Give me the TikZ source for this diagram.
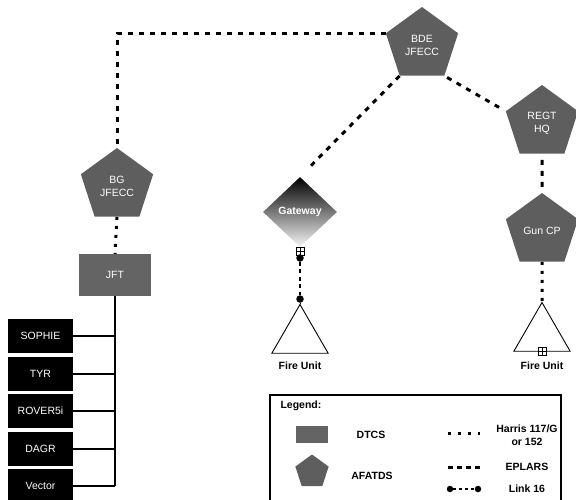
\documentclass[tikz,border=0pt]{standalone}
\usepackage{fontspec}
\setmainfont{Liberation Sans}
\usetikzlibrary{arrows.meta, positioning, calc, shapes.geometric}
\definecolor{afagray}{HTML}{5E5E5E}
\definecolor{dtcsgray}{HTML}{646464}

\begin{document}
\begin{tikzpicture}[
    x=1pt, y=-1pt,
    pent/.style={regular polygon, regular polygon sides=5, minimum size=76pt,
                 inner sep=0pt, fill=afagray, text=white, align=center,
                 font=\fontsize{10.5}{13}\selectfont},
    dtcs/.style={rectangle, fill=dtcsgray, text=white, minimum width=72pt,
                 minimum height=42pt, font=\fontsize{10.5}{12}\selectfont},
    sensor/.style={rectangle, fill=black, text=white, minimum width=65pt,
                   minimum height=34pt, font=\fontsize{10.5}{12}\selectfont},
    firetri/.style={draw, regular polygon, regular polygon sides=3,
                    minimum size=65pt, inner sep=0pt, line width=0.9pt},
    plug/.style={draw, fill=white, minimum size=8pt, inner sep=0pt, line width=0.9pt},
    ball/.style={circle, fill=black, minimum size=7.5pt, inner sep=0pt},
    lbl/.style={font=\fontsize{10.5}{12.5}\selectfont\bfseries, align=center},
    harris/.style={line width=3pt, dash pattern=on 3pt off 6pt},
    eplars/.style={line width=3pt, dash pattern=on 5pt off 6pt},
    link/.style={line width=2.4pt, dash pattern=on 4pt off 3.5pt},
    bus/.style={line width=1.8pt}
  ]
    \useasboundingbox (0,0) rectangle (576,499);

    % AFATDS nodes
    \node[pent] (bde)  at (422,45)  {BDE\\JFECC};
    \node[pent] (regt) at (542,123) {REGT\\HQ};
    \node[pent] (bg)   at (117,186) {BG\\JFECC};
    \node[pent] (gun)  at (542,231) {Gun CP};

    % gateway and fire units
    \node[diamond, minimum width=74pt, minimum height=70pt, inner sep=0pt,
          top color=black, bottom color=gray!8, text=white,
          font=\fontsize{10.5}{12}\selectfont\bfseries] (gw) at (300,212) {Gateway};
    \node[plug] (gwplug) at (300,251) {};
    \draw[line width=0.7pt] (gwplug.north) -- (gwplug.south)
                            (gwplug.west) -- (gwplug.east);
    \node[ball] (gwtop) at (300,258) {};
    \node[ball] (gwbot) at (300,299) {};
    \node[firetri] (fu1) at (300,337) {};
    \node[firetri] (fu2) at (542,335) {};
    \node[plug] (fu2plug) at (fu2.south) {};
    \draw[line width=0.7pt] (fu2plug.north) -- (fu2plug.south)
                            (fu2plug.west) -- (fu2plug.east);
    \node[lbl] (fu1txt) at (300,366) {Fire Unit};
    \node[lbl] (fu2txt) at (542,366) {Fire Unit};

    % DTCS and sensors
    \node[dtcs] (jft) at (115,275) {JFT};
    \node[sensor] (sophie) at (40.5,336) {SOPHIE};
    \node[sensor] (tyr)    at (40.5,374) {TYR};
    \node[sensor] (rover)  at (40.5,411) {ROVER5i};
    \node[sensor] (dagr)   at (40.5,449) {DAGR};
    \node[sensor] (vector) at (40.5,486) {Vector};

    % links
    \draw[eplars] (bde.corner 2) -| (bg.north);
    \draw[eplars, shorten >=14pt] (bde.corner 3) -- (gw.north);
    \draw[eplars, shorten <=3pt, shorten >=3pt] (bde.corner 4) -- (regt.corner 2);
    \draw[eplars, shorten <=6pt, shorten >=2pt] (regt.south) -- (gun.north);
    \draw[harris] (gun.south) -- (fu2.corner 1);
    \draw[harris] (bg.south) -- (jft.north);
    \draw[link] (gwtop) -- (gwbot);
    \draw[line width=0.9pt] (gwbot) -- (fu1.corner 1);
    \draw[bus] (jft.south) -- (jft.south |- vector.east);
    \foreach \s in {sophie, tyr, rover, dagr, vector}
      \draw[bus] (\s.east) -- (\s.east -| jft.south);

    % legend
    \draw[line width=1.8pt] (270,395) rectangle (561,506);
    \node[lbl, anchor=west] (legtitle) at (277,406) {Legend:};
    \node[dtcs, minimum width=32pt, minimum height=17pt] (legbox) at (312,434) {};
    \node[lbl] (legdtcs) at (371,435) {DTCS};
    \node[pent, minimum size=35pt] (legpent) at (312,472) {};
    \node[lbl] (legafa) at (372,476) {AFATDS};
    \coordinate (ha) at (448,433);
    \coordinate (hb) at (480,433);
    \draw[harris, dash pattern=on 3pt off 7pt] (ha) -- (hb);
    \node[lbl] (legharris) at (527,435) {Harris 117/G\\or 152};
    \coordinate (ea) at (448,467);
    \coordinate (eb) at (480,467);
    \draw[eplars, dash pattern=on 5pt off 4pt] (ea) -- (eb);
    \node[lbl] (legeplars) at (527,467) {EPLARS};
    \node[ball, minimum size=6.5pt] (la) at (450,489) {};
    \node[ball, minimum size=6.5pt] (lb) at (478,489) {};
    \draw[link, line width=1.6pt, dash pattern=on 3pt off 3pt] (la) -- (lb);
    \node[lbl] (leglink) at (527,489) {Link 16};
  \end{tikzpicture}
\end{document}
